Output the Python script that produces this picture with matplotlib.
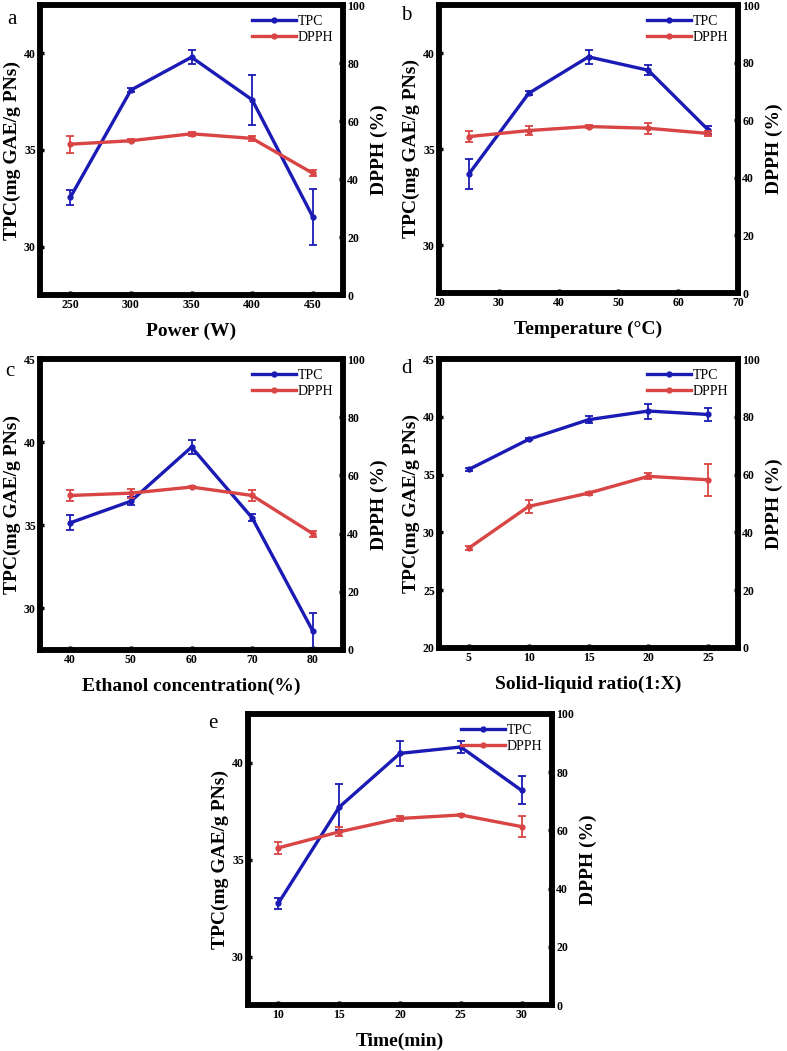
import matplotlib
matplotlib.use('Agg')
import matplotlib.pyplot as plt
import numpy as np

plt.rcParams['font.family'] = ['Liberation Serif', 'DejaVu Serif']

# ---- data ----
power = [250, 300, 350, 400, 450]
power_tpc = [32.55, 38.1, 39.8, 37.6, 31.55]
power_tpc_err = [0.4, 0.1, 0.35, 1.3, 1.45]
power_dpph = [52.0, 53.2, 55.6, 54.0, 42.0]
power_dpph_err = [3.0, 0.5, 0.6, 1.0, 1.0]

temp = [25, 35, 45, 55, 65]
temp_tpc = [33.7, 37.9, 39.8, 39.1, 36.0]
temp_tpc_err = [0.8, 0.1, 0.35, 0.25, 0.2]
temp_dpph = [54.3, 56.4, 57.8, 57.2, 55.4]
temp_dpph_err = [2.0, 1.5, 0.5, 2.0, 1.0]

ethanol = [40, 50, 60, 70, 80]
eth_tpc = [35.15, 36.45, 39.7, 35.45, 28.65]
eth_tpc_err = [0.45, 0.25, 0.4, 0.2, 1.05]
eth_dpph = [53.1, 53.9, 56.0, 53.1, 40.0]
eth_dpph_err = [2.0, 1.5, 0.5, 2.0, 1.0]

ratio = [5, 10, 15, 20, 25]
ratio_tpc = [35.45, 38.05, 39.75, 40.5, 40.2]
ratio_tpc_err = [0.15, 0.1, 0.3, 0.65, 0.6]
ratio_dpph = [34.6, 49.0, 53.6, 59.4, 58.2]
ratio_dpph_err = [0.8, 2.3, 0.5, 1.0, 5.5]

time_min = [10, 15, 20, 25, 30]
time_tpc = [32.75, 37.7, 40.47, 40.8, 38.56]
time_tpc_err = [0.28, 1.2, 0.65, 0.3, 0.72]
time_dpph = [54.0, 59.5, 64.1, 65.3, 61.3]
time_dpph_err = [2.0, 1.5, 0.8, 0.5, 3.5]

BLUE = '#1a1ab4'
RED = '#d94444'

fig = plt.figure(figsize=(7.87, 10.51), dpi=100)

def W(px):
    return px / 787.0

def H(px):
    return px / 1051.0

def panel(rect, letter, letter_xy, x, tpc, tpc_err, dpph, dpph_err,
          xlim, xticks, ylim, yticks, xlabel, legend_label='DPPH'):
    ax = fig.add_axes(rect)
    ax2 = ax.twinx()
    l1 = ax.errorbar(x, tpc, yerr=tpc_err, color=BLUE, lw=2.4, marker='o', ms=3.5,
                     elinewidth=1.3, capsize=3, capthick=1.3)
    l2 = ax2.errorbar(x, dpph, yerr=dpph_err, color=RED, lw=2.4, marker='o', ms=3.5,
                      elinewidth=1.3, capsize=3, capthick=1.3)
    ax.set_xlim(*xlim)
    ax.set_xticks(xticks)
    ax.set_ylim(*ylim)
    ax.set_yticks(yticks)
    ax2.set_ylim(0, 100)
    ax2.set_yticks([0, 20, 40, 60, 80, 100])
    for a in (ax, ax2):
        for s in a.spines.values():
            s.set_linewidth(4)
        a.tick_params(direction='in', length=3, width=2.5, labelsize=8.5, pad=3)
        for t in a.get_xticklabels() + a.get_yticklabels():
            t.set_fontweight('bold')
    ax.set_ylabel('TPC(mg GAE/g PNs)', fontsize=14, fontweight='bold', labelpad=2)
    ax2.set_ylabel('DPPH (%)', fontsize=14, fontweight='bold', labelpad=4)
    ax.set_xlabel(xlabel, fontsize=14, fontweight='bold', labelpad=8)
    # legend shows the plain line+marker, no error bars
    ax2.legend([l1.lines[0], l2.lines[0]], ['TPC', legend_label], loc='upper right',
               frameon=False, fontsize=10, handlelength=3.2, handletextpad=0.1,
               labelspacing=0.25, borderaxespad=0.3)
    fig.text(W(letter_xy[0]), 1 - H(letter_xy[1]), letter, fontsize=15,
             ha='center', va='center')
    return ax, ax2

panel([W(40), H(1051 - 295), W(303), H(290)], 'a', (12, 20),
      power, power_tpc, power_tpc_err, power_dpph, power_dpph_err,
      (225, 475), power, (27.5, 42.5), [30, 35, 40], 'Power (W)')

panel([W(439), H(1051 - 293), W(299), H(288)], 'b', (406, 16),
      temp, temp_tpc, temp_tpc_err, temp_dpph, temp_dpph_err,
      (20, 70), [20, 30, 40, 50, 60, 70], (27.5, 42.5), [30, 35, 40],
      'Temperature (°C)')

panel([W(40), H(1051 - 650), W(303), H(291)], 'c', (10, 371),
      ethanol, eth_tpc, eth_tpc_err, eth_dpph, eth_dpph_err,
      (35, 85), ethanol, (27.5, 45), [30, 35, 40, 45],
      'Ethanol concentration(%)')

panel([W(439), H(1051 - 648), W(299), H(289)], 'd', (406, 368),
      ratio, ratio_tpc, ratio_tpc_err, ratio_dpph, ratio_dpph_err,
      (2.5, 27.5), ratio, (20, 45), [20, 25, 30, 35, 40, 45],
      'Solid-liquid ratio(1:X)')

panel([W(248), H(1051 - 1005), W(304), H(291)], 'e', (213, 724),
      time_min, time_tpc, time_tpc_err, time_dpph, time_dpph_err,
      (7.5, 32.5), time_min, (27.5, 42.5), [30, 35, 40], 'Time(min)')

fig.savefig('out.png', dpi=100)
